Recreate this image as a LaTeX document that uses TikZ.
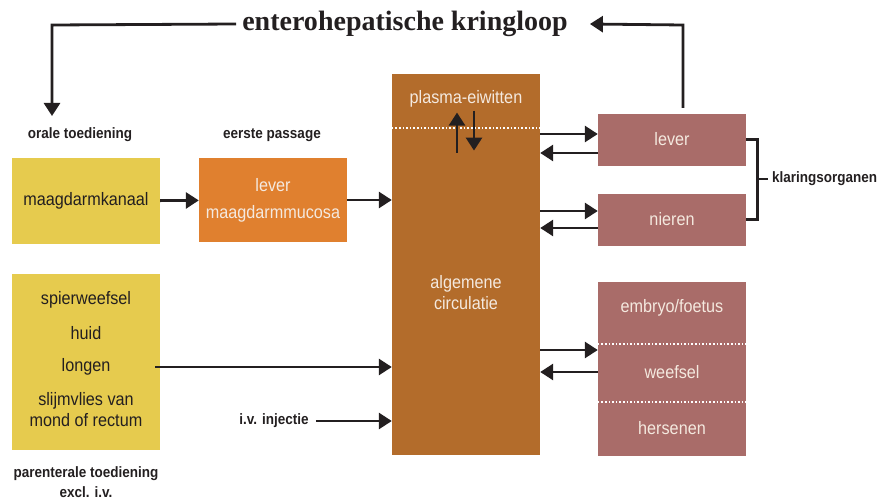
\documentclass[tikz,border=0pt]{standalone}
\usepackage{fontspec}
\setmainfont{Liberation Sans}[FakeStretch=0.9]
\newfontfamily\titlefont{Liberation Serif}
\usetikzlibrary{arrows.meta, positioning}

\definecolor{geel}{HTML}{E6CB4E}
\definecolor{oranje}{HTML}{E0802F}
\definecolor{bruin}{HTML}{B36C2B}
\definecolor{roze}{HTML}{A96C69}
\definecolor{tekst}{HTML}{231F20}
\definecolor{licht}{HTML}{F4E9DF}

\begin{document}
\begin{tikzpicture}[x=1pt, y=-1pt, >={Triangle[length=13pt, width=16pt]}]
    \tikzstyle{box} = [minimum width=148pt, inner sep=0pt, font=\fontsize{18}{21}\selectfont]
    \tikzstyle{txt} = [inner sep=0pt, font=\fontsize{18}{21}\selectfont]
    \tikzstyle{lbl} = [inner sep=0pt, text=tekst, font=\bfseries\fontsize{15}{17}\selectfont]
    \tikzstyle{arr} = [->, line width=2.8pt, draw=tekst]
    \tikzstyle{stip} = [white, line width=2pt, dash pattern=on 1.6pt off 2pt]

    \useasboundingbox (0,0) rectangle (882,500);

    % bronnen
    \node[box, fill=geel, text=tekst, minimum height=86pt] (maag) at (86,201) {maagdarmkanaal};
    \node[box, fill=oranje, text=licht, minimum height=84pt, align=center] (mucosa) at (273,200)
        {lever\\[6pt]maagdarmmucosa};
    \node[box, fill=geel, minimum height=176pt] (parent) at (86,362) {};
    \node[txt, text=tekst] (spier) at (86,300) {spierweefsel};
    \node[txt, text=tekst] (huid) at (86,333) {huid};
    \node[txt, text=tekst] (longen) at (86,367) {longen};
    \node[txt, text=tekst, align=center] (slijm) at (86,410) {slijmvlies van\\mond of rectum};

    % circulatie
    \node[box, fill=bruin, minimum height=381pt] (circ) at (466,264.5) {};
    \node[txt, text=licht] (plasma) at (466,99) {plasma-eiwitten};
    \node[txt, text=licht, align=center] (alg) at (466,293) {algemene\\circulatie};

    % organen
    \node[box, fill=roze, text=licht, minimum height=52pt] (lever) at (672,139.5) {lever};
    \node[box, fill=roze, text=licht, minimum height=52pt] (nieren) at (672,219.5) {nieren};
    \node[box, fill=roze, minimum height=174pt] (org) at (672,369) {};
    \node[txt, text=licht] (embryo) at (672,308) {embryo/foetus};
    \node[txt, text=licht] (weefsel) at (672,372) {weefsel};
    \node[txt, text=licht] (hersenen) at (672,428) {hersenen};

    % stippellijnen
    \draw[stip] ([yshift=-54pt]circ.north west) -- ([yshift=-54pt]circ.north east);
    \draw[stip] ([yshift=-62pt]org.north west) -- ([yshift=-62pt]org.north east);
    \draw[stip] ([yshift=-120pt]org.north west) -- ([yshift=-120pt]org.north east);

    % labels
    \node[lbl] (oraal) at (80,135) {orale toediening};
    \node[lbl] (eerste) at (272,135) {eerste passage};
    \node[lbl, align=center] (parlbl) at (86,482) {parenterale toediening\\[3pt]excl. i.v.};
    \node[lbl] (iv) at (274,421) {i.v. injectie};
    \node[lbl, anchor=west] (klaring) at (772,179) {klaringsorganen};
    \node[inner sep=0pt, text=tekst, font=\titlefont\bfseries\fontsize{28}{32}\selectfont] (titel) at (405,24)
        {enterohepatische kringloop};

    % pijlen
    \draw[arr] (maag) -- (mucosa);
    \draw[arr] (mucosa) -- (mucosa -| circ.west);
    \draw[arr] ([xshift=-5pt]parent.east |- longen) -- (circ.west |- longen);
    \draw[arr] ([xshift=7pt]iv.east) -- (circ.west |- iv);

    \draw[arr] ([yshift=5.5pt]lever.west -| circ.east) -- ([yshift=5.5pt]lever.west);
    \draw[arr] ([yshift=-13.5pt]lever.west) -- ([yshift=-13.5pt]lever.west -| circ.east);
    \draw[arr] ([yshift=8.5pt]nieren.west -| circ.east) -- ([yshift=8.5pt]nieren.west);
    \draw[arr] ([yshift=-8.5pt]nieren.west) -- ([yshift=-8.5pt]nieren.west -| circ.east);
    \draw[arr] (circ.east |- 0,350) -- (org.west |- 0,350);
    \draw[arr] (org.west |- weefsel) -- (circ.east |- weefsel);

    \draw[arr] ([xshift=-9pt, yshift=-45pt]plasma.south) -- ([xshift=-9pt, yshift=-5pt]plasma.south);
    \draw[arr] ([xshift=8pt, yshift=-3pt]plasma.south) -- ([xshift=8pt, yshift=-43pt]plasma.south);
    \draw[arr] (683,108) -- (683,25) -- ([xshift=22pt]titel.east);
    \draw[arr] ([xshift=-6pt]titel.west) -- (52,25) -- (52,116);

    % klaring
    \draw[line width=2.8pt, draw=tekst] (lever.east) -- ++(11,0) |- (nieren.east);
    \draw[line width=2.8pt, draw=tekst] ([xshift=11pt]lever.east |- klaring) -- ([xshift=-4pt]klaring.west);
\end{tikzpicture}
\end{document}
